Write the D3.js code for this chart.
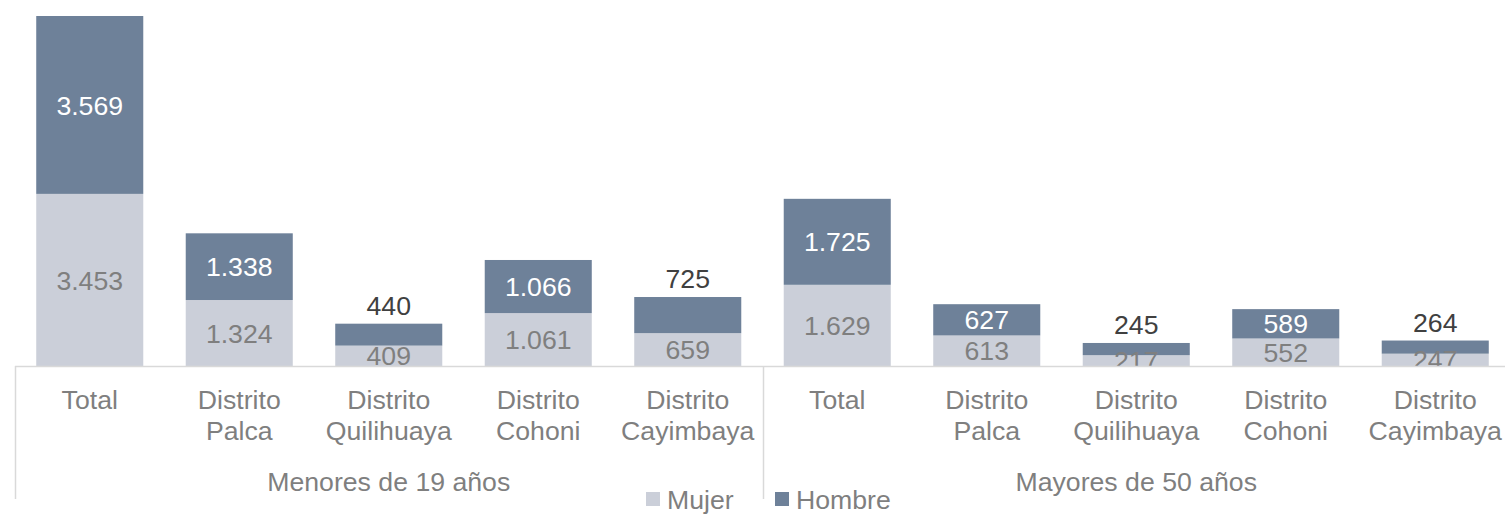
<!DOCTYPE html>
<html>
<head>
<meta charset="utf-8">
<script src="https://cdn.jsdelivr.net/npm/d3@7"></script>
<style>
  body { margin: 0; background: #fff; }
  text { font-family: "Liberation Sans", Arial, sans-serif; }
</style>
</head>
<body>
<div id="chart"></div>
<script>
const groups = ['Menores de 19 años', 'Mayores de 50 años'];
const districts = ['Total', 'Distrito Palca', 'Distrito Quilihuaya', 'Distrito Cohoni', 'Distrito Cayimbaya'];
const mujer = [3453, 1324, 409, 1061, 659, 1629, 613, 217, 552, 247];
const hombre = [3569, 1338, 440, 1066, 725, 1725, 627, 245, 589, 264];
const seriesNames = ['Mujer', 'Hombre'];

const width = 1505, height = 514,
    plotLeft = 15, plotRight = 1510, baseY = 366, topY = 16,
    fontSize = 26.67;

const colors = { Mujer: '#cbcfd9', Hombre: '#6e8199' };
const fmt = (v) => d3.format(',')(v).replace(/,/g, '.');

// one row per bar
const rows = mujer.map((m, i) => ({
    key: i,
    group: groups[Math.floor(i / districts.length)],
    label: districts[i % districts.length],
    Mujer: m,
    Hombre: hombre[i],
}));

const svg = d3.select('#chart')
    .append('svg')
    .attr('width', width)
    .attr('height', height);

const x = d3.scaleBand()
    .domain(rows.map((d) => d.key))
    .range([plotLeft, plotRight])
    .paddingInner(0.284)
    .paddingOuter(0.142);

const y = d3.scaleLinear()
    .domain([0, d3.max(rows, (d) => d.Mujer + d.Hombre)])
    .range([baseY, topY]);

const stacked = d3.stack().keys(seriesNames)(rows);

svg.append('clipPath')
    .attr('id', 'plotClip')
    .append('rect')
    .attr('x', 0).attr('y', 0)
    .attr('width', width).attr('height', baseY);

const plot = svg.append('g').attr('clip-path', 'url(#plotClip)');

// bars
plot.selectAll('g.series')
    .data(stacked)
    .join('g')
    .attr('class', 'series')
    .attr('fill', (s) => colors[s.key])
    .selectAll('rect')
    .data((s) => s)
    .join('rect')
    .attr('x', (d) => x(d.data.key))
    .attr('width', x.bandwidth())
    .attr('y', (d) => y(d[1]))
    .attr('height', (d) => y(d[0]) - y(d[1]));

// labels for the lower segment (Mujer)
plot.selectAll('text.mujer')
    .data(stacked[0])
    .join('text')
    .attr('class', 'mujer')
    .attr('x', (d) => x(d.data.key) + x.bandwidth() / 2)
    .attr('y', (d) => (y(d[0]) + y(d[1])) / 2)
    .attr('dy', '0.36em')
    .attr('text-anchor', 'middle')
    .attr('font-size', fontSize)
    .attr('fill', '#7f7f7f')
    .text((d) => fmt(d.data.Mujer));

// labels for the upper segment (Hombre); the thin ones sit above the bar
const above = new Set([2, 4, 7, 9]);
svg.selectAll('text.hombre')
    .data(stacked[1])
    .join('text')
    .attr('class', 'hombre')
    .attr('x', (d) => x(d.data.key) + x.bandwidth() / 2)
    .attr('y', (d) => above.has(d.data.key) ? y(d[1]) - 9 : (y(d[0]) + y(d[1])) / 2)
    .attr('dy', (d) => above.has(d.data.key) ? '0' : '0.36em')
    .attr('text-anchor', 'middle')
    .attr('font-size', fontSize)
    .attr('fill', (d) => above.has(d.data.key) ? '#404040' : '#ffffff')
    .text((d) => fmt(d.data.Hombre));

// axis line and group separators
const axisColor = '#d9d9d9';
svg.append('line')
    .attr('x1', plotLeft).attr('x2', plotRight)
    .attr('y1', baseY + 0.5).attr('y2', baseY + 0.5)
    .attr('stroke', axisColor).attr('stroke-width', 1.5);

const groupEdges = [plotLeft, x(districts.length) - x.step() * x.paddingInner() / 2, plotRight];
svg.selectAll('line.sep')
    .data(groupEdges)
    .join('line')
    .attr('class', 'sep')
    .attr('x1', (d) => Math.round(d) + 0.5).attr('x2', (d) => Math.round(d) + 0.5)
    .attr('y1', baseY).attr('y2', 499)
    .attr('stroke', axisColor).attr('stroke-width', 1.5);

// category labels
const catLabels = svg.selectAll('text.cat')
    .data(rows)
    .join('text')
    .attr('class', 'cat')
    .attr('text-anchor', 'middle')
    .attr('font-size', fontSize)
    .attr('fill', '#7f7f7f');
catLabels.selectAll('tspan')
    .data((d) => d.label.split(' ').map((w) => ({ w, cx: x(d.key) + x.bandwidth() / 2 })))
    .join('tspan')
    .attr('x', (t) => t.cx)
    .attr('y', (t, i) => 409 + i * 31)
    .text((t) => t.w);

// group labels
svg.selectAll('text.grp')
    .data(groups)
    .join('text')
    .attr('class', 'grp')
    .attr('x', (g, i) => (groupEdges[i] + groupEdges[i + 1]) / 2)
    .attr('y', 491)
    .attr('text-anchor', 'middle')
    .attr('font-size', fontSize)
    .attr('fill', '#7f7f7f')
    .text((g) => g);

// legend
const legend = svg.selectAll('g.legend')
    .data(seriesNames)
    .join('g')
    .attr('class', 'legend')
    .attr('transform', (s, i) => `translate(${i === 0 ? 646 : 775}, 492)`);
legend.append('rect')
    .attr('width', 14).attr('height', 14)
    .attr('fill', (s) => colors[s]);
legend.append('text')
    .attr('x', 21)
    .attr('y', 7)
    .attr('dy', '0.36em')
    .attr('font-size', fontSize)
    .attr('fill', '#7f7f7f')
    .text((s) => s);
</script>
</body>
</html>
